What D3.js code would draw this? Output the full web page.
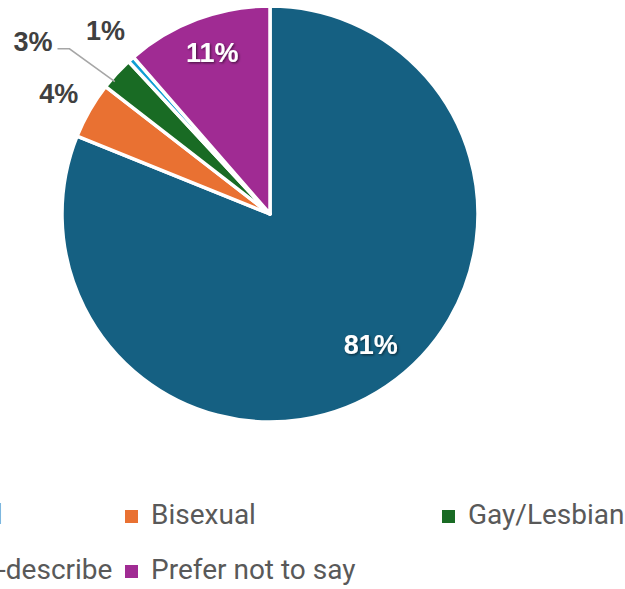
<!DOCTYPE html>
<html>
<head>
<meta charset="utf-8">
<script src="https://cdn.jsdelivr.net/npm/d3@7"></script>
<style>
  html, body { margin: 0; padding: 0; background: #ffffff; }
  svg { display: block; }
</style>
</head>
<body>
<svg id="chart" width="625" height="589"></svg>
<script>
// Sexual orientation of respondents (share of total, %)
const categories = ["Heterosexual", "Bisexual", "Gay/Lesbian", "Prefer to self-describe", "Prefer not to say"];
const shares = [81.1, 4.4, 2.6, 0.5, 11.4];
const labelTexts = ["81%", "4%", "3%", "1%", "11%"];
const colors = ["#156082", "#E97132", "#196B24", "#0F9ED5", "#A02B93"];

// Layout
const W = 625, H = 589;
const cx = 270, cy = 214, R = 208;
// label placement: [angle in degrees clockwise from 12 o'clock, distance from centre]
const labelPolar = [[142.4, 165], [299.6, 243], [306, 293], [318, 246], [340.3, 171]];
const labelInside = [true, false, false, false, true];
const leaderFor = [false, false, true, false, false];

const svg = d3.select("#chart");

const defs = svg.append("defs");
const shadow = defs.append("filter").attr("id", "lblShadow")
  .attr("x", "-20%").attr("y", "-20%").attr("width", "140%").attr("height", "140%");
shadow.append("feDropShadow")
  .attr("dx", 1.2).attr("dy", 1.2).attr("stdDeviation", 1.1)
  .attr("flood-color", "#000").attr("flood-opacity", 0.55);

const pie = d3.pie().sort(null).value(d => d);
const arcs = pie(shares);
const arc = d3.arc().innerRadius(0).outerRadius(R);

const g = svg.append("g").attr("transform", `translate(${cx},${cy})`);

g.selectAll("path.slice")
  .data(arcs)
  .join("path")
  .attr("class", "slice")
  .attr("d", arc)
  .attr("fill", (d, i) => colors[i])
  .attr("stroke", "#ffffff")
  .attr("stroke-width", 3.5)
  .attr("stroke-linejoin", "round");

const polar = (deg, r) => {
  const a = deg * Math.PI / 180;
  return [r * Math.sin(a), -r * Math.cos(a)];
};

// data labels
const labels = g.selectAll("text.lbl")
  .data(arcs)
  .join("text")
  .attr("class", "lbl")
  .attr("x", (d, i) => polar(labelPolar[i][0], labelPolar[i][1])[0])
  .attr("y", (d, i) => polar(labelPolar[i][0], labelPolar[i][1])[1])
  .attr("text-anchor", "middle")
  .attr("dominant-baseline", "central")
  .attr("font-family", "'Liberation Sans', Arial, sans-serif")
  .attr("font-weight", "bold")
  .attr("font-size", 27)
  .attr("fill", (d, i) => labelInside[i] ? "#ffffff" : "#404040")
  .attr("filter", (d, i) => labelInside[i] ? "url(#lblShadow)" : null)
  .text((d, i) => labelTexts[i]);

// leader line for the displaced label
labels.each(function (d, i) {
  if (!leaderFor[i]) return;
  const [lx, ly] = polar(labelPolar[i][0], labelPolar[i][1]);
  const w = this.getComputedTextLength();
  const x0 = lx + w / 2 + 5;
  const y0 = ly + 7;
  const mid = (d.startAngle + d.endAngle) / 2 * 180 / Math.PI;
  const [ex, ey] = polar(mid - 2, R - 4);
  g.append("path")
    .attr("d", d3.line()([[x0, y0], [x0 + 12, y0], [ex, ey]]))
    .attr("fill", "none")
    .attr("stroke", "#A6A6A6")
    .attr("stroke-width", 1.5);
});

// legend: three columns, the first one runs past the left edge of the page
const legendCols = [-188, 125, 442];
const legendRows = [524, 579];
const legend = svg.append("g");
categories.forEach((name, i) => {
  const col = i % 3, row = Math.floor(i / 3);
  const x = legendCols[col];
  const baseline = legendRows[row];
  legend.append("rect")
    .attr("x", x).attr("y", baseline - 14)
    .attr("width", 13).attr("height", 13)
    .attr("fill", colors[i]);
  legend.append("text")
    .attr("x", x + 26).attr("y", baseline)
    .attr("font-family", "Roboto, 'Noto Sans', sans-serif")
    .attr("font-size", 28)
    .attr("fill", "#595959")
    .text(name);
});
</script>
</body>
</html>
